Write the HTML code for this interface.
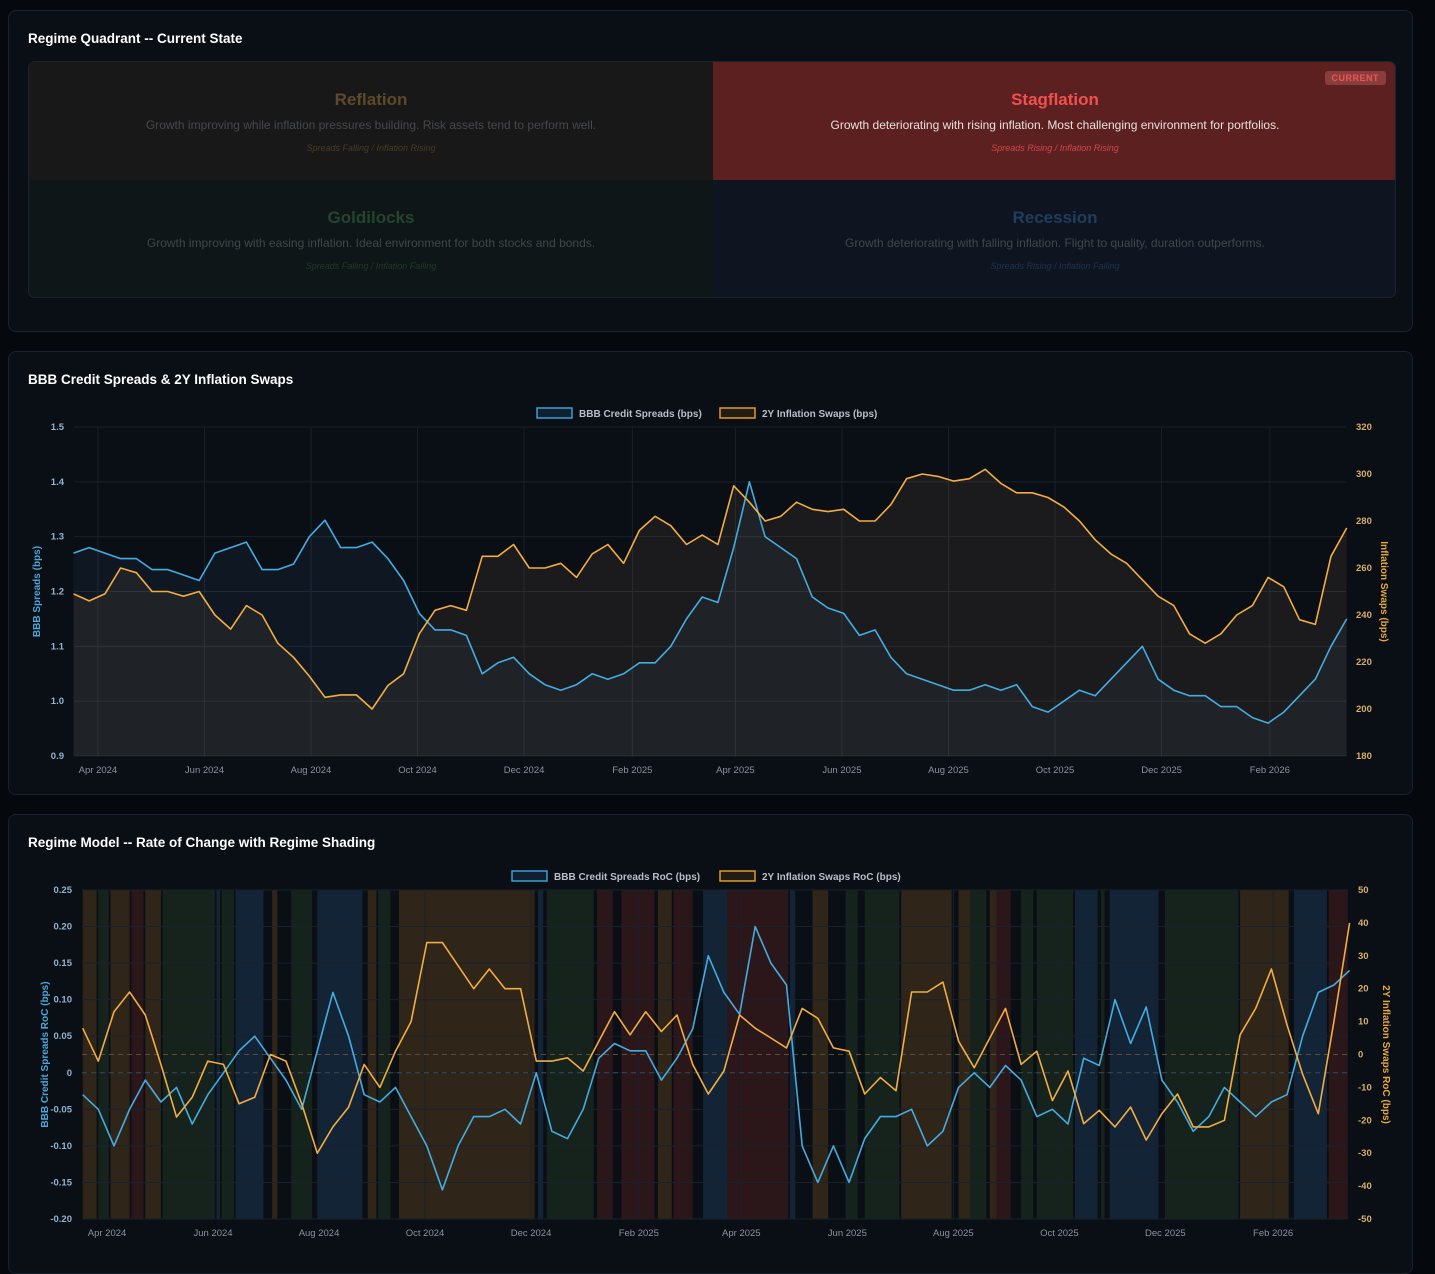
<!DOCTYPE html>
<html><head><meta charset="utf-8">
<style>
*{box-sizing:border-box;margin:0;padding:0}
body{width:1435px;height:1254px;background:#05080c;font-family:"Liberation Sans",sans-serif;position:relative;overflow:hidden}
.panel{position:absolute;left:8px;width:1405px;background:#0a0e15;border:1px solid #1a2130;border-radius:8px}
.ptitle{position:absolute;left:19px;color:#fff;font-weight:bold;font-size:13.5px}
.quad{position:absolute;left:19px;top:50px;width:1368px;height:237px;border:1px solid #1c2330;border-radius:7px;overflow:hidden}
.cell{position:absolute;width:684px;height:118px;text-align:center}
.cell h3{position:absolute;top:28px;width:100%;font-size:17px;font-weight:bold}
.cell p{position:absolute;top:56px;width:100%;font-size:12px}
.cell i{position:absolute;top:81px;width:100%;font-size:9px;left:0}
.badge{position:absolute;right:11px;top:9px;background:#8a3d3d;color:#e55;font-size:9px;font-weight:bold;padding:2px 7px;border-radius:3px;letter-spacing:.5px}
svg{position:absolute;left:0;top:0}
</style></head><body>
<div class="panel" style="top:10px;height:322px">
 <div class="ptitle" style="top:20px">Regime Quadrant -- Current State</div>
 <div class="quad">
  <div class="cell" style="left:0;top:0;background:#181818">
   <h3 style="color:#5e4a2a">Reflation</h3><p style="color:#45484d">Growth improving while inflation pressures building. Risk assets tend to perform well.</p><i style="color:#4a3a22">Spreads Falling / Inflation Rising</i></div>
  <div class="cell" style="left:684px;top:0;background:#5c2020">
   <div class="badge">CURRENT</div>
   <h3 style="color:#f05050">Stagflation</h3><p style="color:#e8e0e0">Growth deteriorating with rising inflation. Most challenging environment for portfolios.</p><i style="color:#d04848">Spreads Rising / Inflation Rising</i></div>
  <div class="cell" style="left:0;top:118px;background:#0f1617">
   <h3 style="color:#23452e">Goldilocks</h3><p style="color:#41464b">Growth improving with easing inflation. Ideal environment for both stocks and bonds.</p><i style="color:#1f3a28">Spreads Falling / Inflation Falling</i></div>
  <div class="cell" style="left:684px;top:118px;background:#0f1520">
   <h3 style="color:#1f3d5c">Recession</h3><p style="color:#41464b">Growth deteriorating with falling inflation. Flight to quality, duration outperforms.</p><i style="color:#1c344f">Spreads Rising / Inflation Falling</i></div>
 </div>
</div>
<div class="panel" style="top:351px;height:444px">
 <div class="ptitle" style="top:20px">BBB Credit Spreads &amp; 2Y Inflation Swaps</div>
</div>
<div class="panel" style="top:814px;height:460px">
 <div class="ptitle" style="top:20px">Regime Model -- Rate of Change with Regime Shading</div>
</div>
<svg id="svg" width="1435" height="1254"></svg>
<script>
// shared date axis: day offsets from 2024-04-01, sampled every 9 days
const startDay=-14, stepDays=9;
const monthLabels=['Apr 2024','Jun 2024','Aug 2024','Oct 2024','Dec 2024','Feb 2025','Apr 2025','Jun 2025','Aug 2025','Oct 2025','Dec 2025','Feb 2026'];
const monthDays=[0,61,122,183,244,306,365,426,487,548,609,671];
// Chart 1 data
const spreads=[1.27,1.28,1.27,1.26,1.26,1.24,1.24,1.23,1.22,1.27,1.28,1.29,1.24,1.24,1.25,1.30,1.33,1.28,1.28,1.29,1.26,1.22,1.16,1.13,1.13,1.12,1.05,1.07,1.08,1.05,1.03,1.02,1.03,1.05,1.04,1.05,1.07,1.07,1.10,1.15,1.19,1.18,1.28,1.40,1.30,1.28,1.26,1.19,1.17,1.16,1.12,1.13,1.08,1.05,1.04,1.03,1.02,1.02,1.03,1.02,1.03,0.99,0.98,1.00,1.02,1.01,1.04,1.07,1.10,1.04,1.02,1.01,1.01,0.99,0.99,0.97,0.96,0.98,1.01,1.04,1.10,1.15];
const swaps=[249,246,249,260,258,250,250,248,250,240,234,244,240,228,222,214,205,206,206,200,210,215,232,242,244,242,265,265,270,260,260,262,256,266,270,262,276,282,278,270,274,270,295,288,280,282,288,285,284,285,280,280,287,298,300,299,297,298,302,296,292,292,290,286,280,272,266,262,255,248,244,232,228,232,240,244,256,252,238,236,265,277];
const leftTicks1=[0.9,1.0,1.1,1.2,1.3,1.4,1.5];
const rightTicks1=[180,200,220,240,260,280,300,320];
// Chart 2 data
const spreadsRoc=[-0.03,-0.05,-0.10,-0.05,-0.01,-0.04,-0.02,-0.07,-0.03,0.00,0.03,0.05,0.02,-0.01,-0.05,0.03,0.11,0.05,-0.03,-0.04,-0.02,-0.06,-0.10,-0.16,-0.10,-0.06,-0.06,-0.05,-0.07,0.00,-0.08,-0.09,-0.05,0.02,0.04,0.03,0.03,-0.01,0.02,0.06,0.16,0.11,0.08,0.20,0.15,0.12,-0.10,-0.15,-0.10,-0.15,-0.09,-0.06,-0.06,-0.05,-0.10,-0.08,-0.02,0.00,-0.02,0.01,-0.01,-0.06,-0.05,-0.07,0.02,0.01,0.10,0.04,0.09,-0.01,-0.04,-0.08,-0.06,-0.02,-0.04,-0.06,-0.04,-0.03,0.05,0.11,0.12,0.14];
const swapsRoc=[8,-2,13,19,12,-3,-19,-13,-2,-3,-15,-13,0,-2,-15,-30,-22,-16,-3,-10,1,10,34,34,27,20,26,20,20,-2,-2,-1,-5,4,13,6,13,7,12,-3,-12,-5,12,8,5,2,14,11,2,1,-12,-7,-11,19,19,22,4,-4,5,14,-3,1,-14,-5,-21,-17,-22,-16,-26,-18,-12,-22,-22,-20,6,14,26,9,-6,-18,10,40];
const leftTicks2=[-0.20,-0.15,-0.10,-0.05,0,0.05,0.10,0.15,0.20,0.25];
const leftTickLabels2=['-0.20','-0.15','-0.10','-0.05','0','0.05','0.10','0.15','0.20','0.25'];
const rightTicks2=[-50,-40,-30,-20,-10,0,10,20,30,40,50];
const bandStart=[-14,-5,2,14,22,32,63,66,74,95,106,121,150,156,168,248,253,282,296,317,326,343,357,393,406,425,436,457,490,497,508,512,526,535,557,572,577,609,652,683,703];
const bandEnd=[-6,1,13,21,31,62,65,73,90,98,118,147,155,163,246,251,280,291,315,325,337,357,392,396,415,432,456,486,497,506,512,520,533,556,570,574,605,651,680,702,714];
const bandRegime=['R','G','R','S','R','G','C','G','C','R','G','C','R','G','R','C','G','S','S','R','S','C','S','C','R','G','G','R','R','G','R','S','G','G','C','G','C','G','R','C','S'];
const regimeColor={R:'#2f2519',G:'#15231c',C:'#132437',S:'#2b161a'};

const NS='http://www.w3.org/2000/svg', svg=document.getElementById('svg');
function mk(tag,attrs,parent){const e=document.createElementNS(NS,tag);for(const k in attrs)e.setAttribute(k,attrs[k]);(parent||svg).appendChild(e);return e;}
function txt(x,y,s,attrs){const t=mk('text',Object.assign({x:x,y:y,'font-family':'Liberation Sans, sans-serif'},attrs));t.textContent=s;return t;}
function dayOf(i){return startDay+stepDays*i;}

function drawChart(c){
  const g=mk('g',{});
  
  
  const X=d=>c.x0+(d-c.d0)*(c.x1-c.x0)/(c.d1-c.d0);
  const YL=v=>c.y1-(v-c.lmin)*(c.y1-c.y0)/(c.lmax-c.lmin);
  const YR=v=>c.y1-(v-c.rmin)*(c.y1-c.y0)/(c.rmax-c.rmin);
  if(c.bands){
    for(let i=0;i<bandStart.length;i++){
      const r=mk('rect',{x:X(bandStart[i]),y:c.y0,width:Math.max(1,X(bandEnd[i])-X(bandStart[i])),height:c.y1-c.y0,fill:regimeColor[bandRegime[i]]},g);
      
      
    }
  }
  // grid
  c.lt.forEach((v,i)=>{mk('line',{x1:c.x0,x2:c.x1,y1:YL(v),y2:YL(v),stroke:'#1b212b','stroke-width':1},g);
    const t=txt(c.x0-10,YL(v)+3,c.ltl?c.ltl[i]:v.toFixed(1),{'font-size':9.5,fill:'#8fb4d2','text-anchor':'end','font-weight':'bold'},g);
    });
  c.rt.forEach(v=>{const t=txt(c.x1+10,YR(v)+3,String(v),{'font-size':9.5,fill:'#d6ae6a','font-weight':'bold'},g);
    });
  monthDays.forEach((d,i)=>{mk('line',{x1:X(d),x2:X(d),y1:c.y0,y2:c.y1,stroke:'#1b212b','stroke-width':1},g);
    const t=txt(X(d),c.y1+17,monthLabels[i],{'font-size':9.5,fill:'#8b93a0','text-anchor':'middle'},g);
    });
  if(c.zero){
    mk('line',{x1:c.x0,x2:c.x1,y1:YL(0),y2:YL(0),stroke:'#3a4a58','stroke-dasharray':'5,4'},g);
    mk('line',{x1:c.x0,x2:c.x1,y1:YR(0),y2:YR(0),stroke:'#5a4e38','stroke-dasharray':'5,4'},g);
  }
  function pts(arr,Y){return arr.map((v,i)=>X(dayOf(i)).toFixed(1)+','+Y(v).toFixed(1));}
  if(c.fill){
    const pb=pts(c.ls,YL), po=pts(c.rs,YR);
    const f1=mk('polygon',{points:X(dayOf(0))+','+c.y1+' '+pb.join(' ')+' '+X(dayOf(c.ls.length-1))+','+c.y1,fill:'rgba(70,120,160,0.10)'},g);
    
    const f2=mk('polygon',{points:X(dayOf(0))+','+c.y1+' '+po.join(' ')+' '+X(dayOf(c.rs.length-1))+','+c.y1,fill:'rgba(200,160,100,0.09)'},g);
    
  }
  const l1=mk('polyline',{points:pts(c.ls,YL).join(' '),fill:'none',stroke:'#45ace0','stroke-width':1.6,'stroke-linejoin':'round'},g);
  
  const l2=mk('polyline',{points:pts(c.rs,YR).join(' '),fill:'none',stroke:'#f2ad42','stroke-width':1.6,'stroke-linejoin':'round'},g);
  
  // axis titles
  const my=(c.y0+c.y1)/2;
  const a1=txt(0,0,c.ltitle,{'font-size':10,'font-weight':'bold',fill:'#4aa8d8','text-anchor':'middle',transform:'translate('+(c.x0-34)+','+my+') rotate(-90)'},g);
  
  const a2=txt(0,0,c.rtitle,{'font-size':10,'font-weight':'bold',fill:'#e8a83e','text-anchor':'middle',transform:'translate('+(c.x1+35)+','+my+') rotate(90)'},g);
  
  // legend
  const lg=mk('g',{},g);
  
  mk('rect',{x:c.lgx,y:c.lgy-9,width:35,height:10,fill:'#112030',stroke:'#3a9fd0','stroke-width':1.5},lg);
  txt(c.lgx+42,c.lgy,c.lg1,{'font-size':10,'font-weight':'bold',fill:'#b8bfc9'},lg);
  mk('rect',{x:c.lgx2,y:c.lgy-9,width:35,height:10,fill:'#211c14',stroke:'#e09a30','stroke-width':1.5},lg);
  txt(c.lgx2+42,c.lgy,c.lg2,{'font-size':10,'font-weight':'bold',fill:'#b8bfc9'},lg);
}
drawChart({name:'levels-chart',x0:74,x1:1346,y0:427,y1:756,d0:-13.7,d1:714.6,lmin:0.9,lmax:1.5,rmin:180,rmax:320,
  lt:leftTicks1,rt:rightTicks1,ls:spreads,rs:swaps,fill:true,ltitle:'BBB Spreads (bps)',rtitle:'Inflation Swaps (bps)',
  lgx:537,lgx2:720,lgy:417,lg1:'BBB Credit Spreads (bps)',lg2:'2Y Inflation Swaps (bps)'});
drawChart({name:'roc-chart',x0:82,x1:1348,y0:890,y1:1219,d0:-14.4,d1:714.1,lmin:-0.20,lmax:0.25,rmin:-50,rmax:50,
  lt:leftTicks2,ltl:leftTickLabels2,rt:rightTicks2,ls:spreadsRoc,rs:swapsRoc,bands:true,zero:true,
  ltitle:'BBB Credit Spreads RoC (bps)',rtitle:'2Y Inflation Swaps RoC (bps)',
  lgx:512,lgx2:720,lgy:880,lg1:'BBB Credit Spreads RoC (bps)',lg2:'2Y Inflation Swaps RoC (bps)'});
</script>
</body></html>
